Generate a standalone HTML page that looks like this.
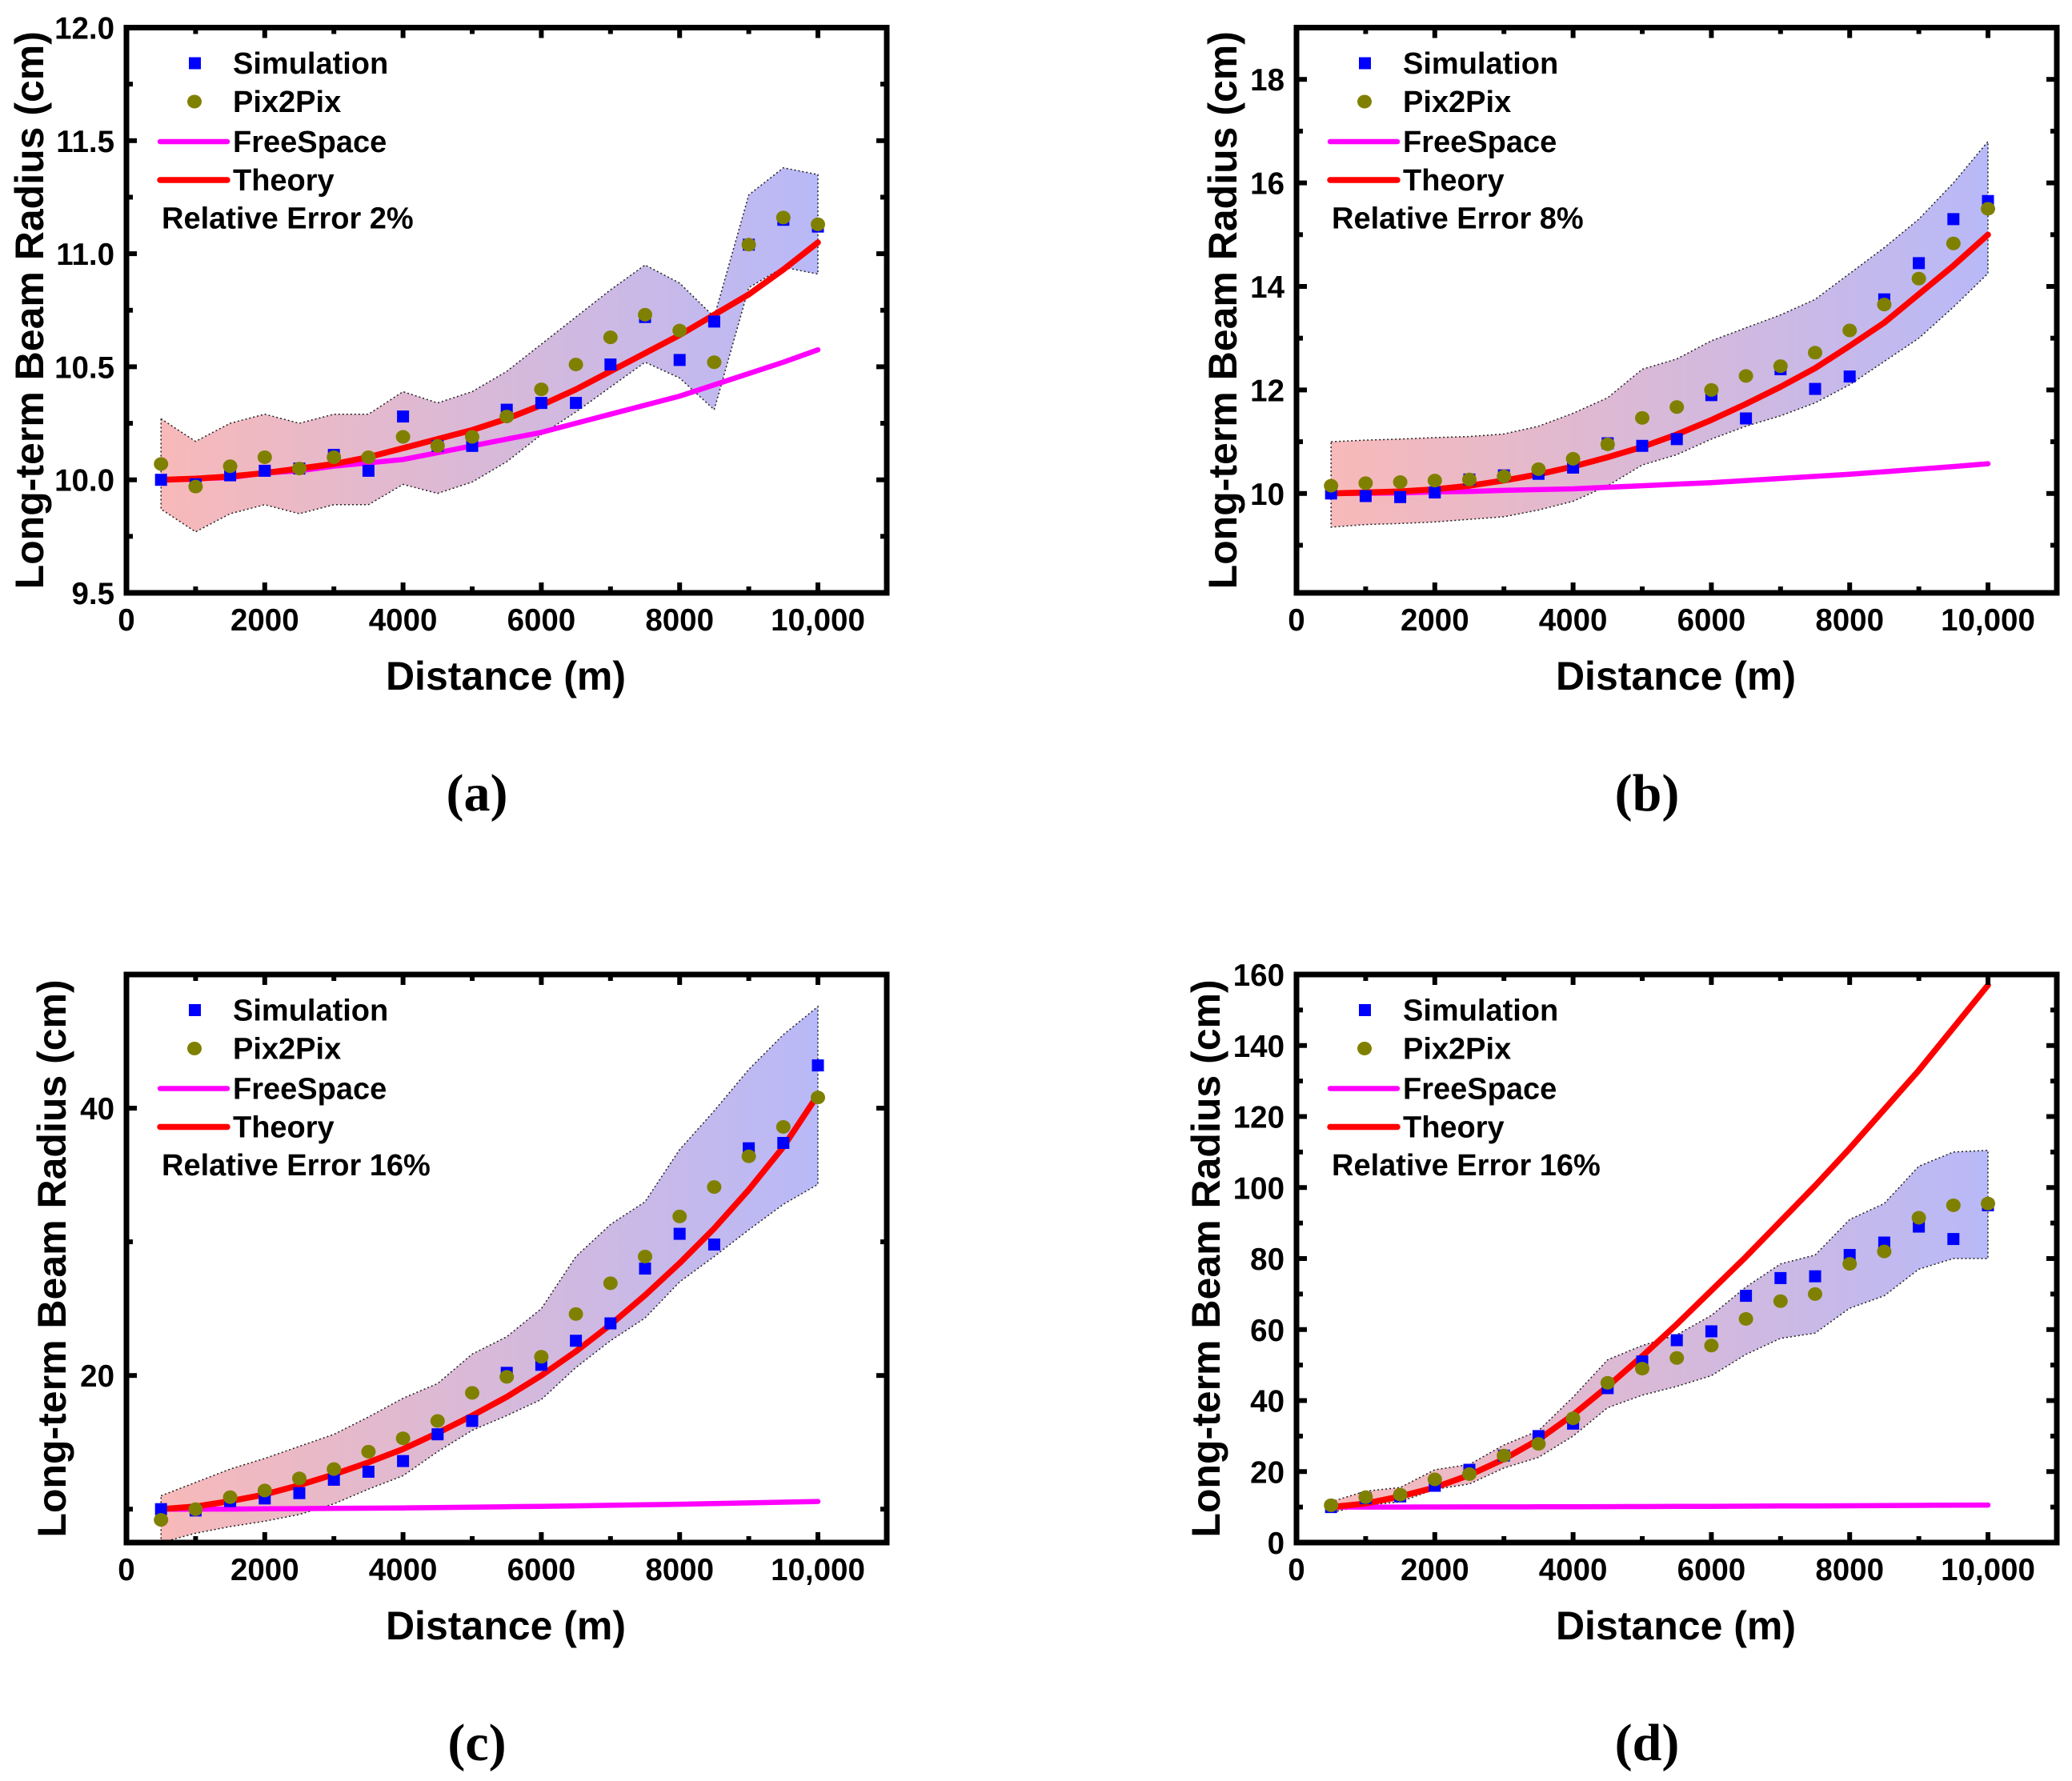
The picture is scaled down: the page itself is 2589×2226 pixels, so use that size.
<!DOCTYPE html>
<html><head><meta charset="utf-8"><style>
html,body{margin:0;padding:0;background:#fff;}
svg{display:block;font-family:"Liberation Sans",Arial,sans-serif;}
</style></head><body>
<svg id="fig" width="2589" height="2226" viewBox="0 0 2589 2226" xmlns="http://www.w3.org/2000/svg"></svg>
<script>
const distances=[500,1000,1500,2000,2500,3000,3500,4000,4500,5000,5500,6000,6500,7000,7500,8000,8500,9000,9500,10000];
// panel a
const simA=[10.0,9.98,10.02,10.04,10.05,10.11,10.04,10.28,10.15,10.15,10.31,10.34,10.34,10.51,10.72,10.53,10.70,11.04,11.15,11.12];
const pixA=[10.07,9.97,10.06,10.10,10.05,10.10,10.10,10.19,10.15,10.19,10.28,10.40,10.51,10.63,10.73,10.66,10.52,11.04,11.16,11.13];
const upA=[10.27,10.17,10.25,10.29,10.25,10.29,10.29,10.39,10.34,10.39,10.48,10.60,10.72,10.84,10.95,10.87,10.72,11.26,11.38,11.35];
const loA=[9.87,9.77,9.85,9.89,9.85,9.89,9.89,9.98,9.94,9.99,10.08,10.20,10.30,10.41,10.52,10.45,10.31,10.85,10.94,10.91];
const thA=[10.0,10.005,10.015,10.03,10.05,10.07,10.10,10.14,10.18,10.22,10.27,10.33,10.40,10.48,10.56,10.64,10.73,10.82,10.93,11.05];
const fsA=[10.0,10.005,10.01,10.03,10.04,10.06,10.075,10.09,10.12,10.15,10.18,10.21,10.25,10.29,10.33,10.37,10.42,10.47,10.52,10.575];
// panel b
const simB=[10.0,9.95,9.93,10.02,10.27,10.35,10.38,10.5,10.97,10.92,11.05,11.9,11.45,12.4,12.02,12.26,13.75,14.45,15.3,15.65];
const pixB=[10.15,10.2,10.22,10.25,10.27,10.33,10.47,10.67,10.95,11.46,11.67,12.0,12.27,12.46,12.72,13.15,13.65,14.15,14.83,15.5];
const upB=[11.0,11.03,11.05,11.08,11.1,11.15,11.3,11.55,11.85,12.4,12.6,12.95,13.2,13.45,13.75,14.25,14.75,15.3,16.0,16.8];
const loB=[9.35,9.4,9.42,9.45,9.5,9.55,9.68,9.85,10.15,10.55,10.75,11.05,11.3,11.5,11.75,12.1,12.55,13.0,13.6,14.25];
const thB=[10.0,10.02,10.04,10.08,10.15,10.25,10.37,10.52,10.7,10.9,11.14,11.42,11.73,12.06,12.42,12.85,13.3,13.85,14.4,15.0];
const fsB=fsA;
// panel c
const simC=[10.0,9.9,10.6,10.8,11.2,12.2,12.8,13.6,15.6,16.6,20.2,20.8,22.6,23.9,28.0,30.6,29.8,37.0,37.4,43.2];
const pixC=[9.2,10.0,10.9,11.4,12.3,13.0,14.3,15.3,16.6,18.7,19.9,21.4,24.6,26.9,28.9,31.9,34.1,36.4,38.6,40.8];
const upC=[11.0,12.0,13.0,13.8,14.7,15.6,16.9,18.3,19.4,21.6,22.9,25.0,28.9,31.3,33.0,36.9,39.8,42.9,45.5,47.6];
const loC=[7.5,8.2,8.7,9.1,9.6,10.4,11.5,12.5,14.3,15.9,17.0,18.2,20.6,22.6,24.3,27.0,28.9,30.9,32.8,34.3];
const thC=[10.0,10.2,10.6,11.1,11.8,12.6,13.5,14.5,15.7,17.0,18.4,20.0,21.8,23.8,26.0,28.4,31.0,33.9,37.1,41.0];
const fsC=fsA;
// panel d
const simD=[10,12.5,13,16,20.5,24.5,30,33.5,43.5,51,57,59.5,69.5,74.5,75,81,84.5,89,85.5,95];
const pixD=[10.5,12.8,13.5,17.8,19.3,24.5,27.8,35,45,49,52,55.5,63,68,70,78.5,82,91.5,95,95.5];
const upD=[11.5,14.5,15.5,20.5,22,27.5,31.5,41,51.5,55.5,58.5,64,72,78.5,81,91,95.5,106,110,110.5];
const loD=[8.5,10.5,11.5,15,16.5,21,24,30,38,41.5,44,47,53,57.5,59,66,69.5,77,80,80];
const thD=[10,11,13,15.5,19,23.5,29,36,44,52.5,61.5,71,80.5,90.5,100.5,111,122,133,145,157];
const fsD=fsA;
const xTicks=[0,2000,4000,6000,8000,10000];
const xTickLabels=["0","2000","4000","6000","8000","10,000"];
const yTicksA=[9.5,10.0,10.5,11.0,11.5,12.0];
const yTickLabelsA=["9.5","10.0","10.5","11.0","11.5","12.0"];
const yTicksB=[10,12,14,16,18];
const yTickLabelsB=["10","12","14","16","18"];
const yTicksC=[20,40];
const yTickLabelsC=["20","40"];
const yTicksD=[0,20,40,60,80,100,120,140,160];
const yTickLabelsD=["0","20","40","60","80","100","120","140","160"];
const errLabels=["Relative Error 2%","Relative Error 8%","Relative Error 16%","Relative Error 16%"];

const NS="http://www.w3.org/2000/svg";
const svg=document.getElementById('fig');
function mk(tag,attrs,parent){const e=document.createElementNS(NS,tag);for(const k in attrs)e.setAttribute(k,attrs[k]);(parent||svg).appendChild(e);return e;}

function panel(id,x0,top,bottom,ymin,ymax,yMinorStep,yTicks,yLabels,sim,pix,up,lo,th,fs,err,cap,titleX){
  const g=mk('g',{});
  
  
  const right=x0+950;
  const X=v=>x0+v*0.0864;
  const Y=v=>bottom-(v-ymin)/(ymax-ymin)*(bottom-top);
  const gid='grad'+id;
  const defs=mk('defs',{},g);
  const lg=mk('linearGradient',{id:gid,gradientUnits:'userSpaceOnUse',x1:X(500),y1:0,x2:X(10000),y2:0},defs);
  mk('stop',{offset:'0','stop-color':'#f8b9b9'},lg);
  mk('stop',{offset:'1','stop-color':'#b8b9f8'},lg);
  let d='';
  distances.forEach((x,i)=>{d+=(i?'L':'M')+X(x).toFixed(1)+' '+Y(up[i]).toFixed(1);});
  for(let i=distances.length-1;i>=0;i--)d+='L'+X(distances[i]).toFixed(1)+' '+Y(lo[i]).toFixed(1);
  const band=mk('path',{d:d+'Z',fill:'url(#'+gid+')',stroke:'#222','stroke-width':1.5,'stroke-dasharray':'2 3'},g);
  
  
  const line=(arr,col,w,name)=>{let p='';distances.forEach((x,i)=>{p+=(i?'L':'M')+X(x).toFixed(1)+' '+Y(arr[i]).toFixed(1);});
    const e=mk('path',{d:p,fill:'none',stroke:col,'stroke-width':w,'stroke-linejoin':'round','stroke-linecap':'round'},g);
    
    };
  line(fs,'#ff00ff',6.5,'freespace-line');
  line(th,'#ff0000',7.5,'theory-line');
  sim.forEach((v,i)=>{const r=mk('rect',{x:X(distances[i])-7.5,y:Y(v)-7.5,width:15,height:15,fill:'#0000ff'},g);
    
    });
  pix.forEach((v,i)=>{const c=mk('ellipse',{cx:X(distances[i]),cy:Y(v),rx:9,ry:8.5,fill:'#808000'},g);
    
    });
  const fr=mk('rect',{x:x0,y:top,width:950,height:bottom-top,fill:'none',stroke:'#000','stroke-width':7},g);
  
  
  for(let v=0;v<=11000;v+=1000){const maj=v%2000===0;const L=maj?13:8;const xx=X(v);
    mk('line',{x1:xx,y1:bottom,x2:xx,y2:bottom-L,stroke:'#000','stroke-width':6},g);
    mk('line',{x1:xx,y1:top,x2:xx,y2:top+L,stroke:'#000','stroke-width':6},g);}
  xTicks.forEach((v,i)=>{const t=mk('text',{x:X(v),y:bottom+47,'text-anchor':'middle','font-size':38.5,'font-weight':'bold'},g);t.textContent=xTickLabels[i];
    
    });
  for(let v=ymax;v>=ymin-1e-9;v-=yMinorStep){const yy=Y(v);const maj=yTicks.some(t=>Math.abs(t-v)<1e-6);const L=maj?13:8;
    mk('line',{x1:x0,y1:yy,x2:x0+L,y2:yy,stroke:'#000','stroke-width':6},g);
    mk('line',{x1:right,y1:yy,x2:right-L,y2:yy,stroke:'#000','stroke-width':6},g);}
  yTicks.forEach((v,i)=>{const t=mk('text',{x:x0-15,y:Y(v)+14,'text-anchor':'end','font-size':38.5,'font-weight':'bold'},g);t.textContent=yLabels[i];
    
    });
  const xt=mk('text',{x:x0+474,y:bottom+121,'text-anchor':'middle','font-size':50,'font-weight':'bold'},g);xt.textContent='Distance (m)';
  
  
  const cy=(top+bottom)/2;
  const yt=mk('text',{x:titleX,y:cy,'text-anchor':'middle','font-size':50,'font-weight':'bold',transform:'rotate(-90 '+titleX+' '+cy+')'},g);yt.textContent='Long-term Beam Radius (cm)';
  
  
  const lx=x0, ly=top;
  const rows=[44.5,92.5,142.5,190.5];
  const ls=mk('rect',{x:lx+78,y:ly+rows[0]-7.5,width:15,height:15,fill:'#0000ff'},g);
  
  
  const lp=mk('ellipse',{cx:lx+85,cy:ly+rows[1],rx:9,ry:8.5,fill:'#808000'},g);
  
  
  mk('line',{x1:lx+42,y1:ly+rows[2],x2:lx+126,y2:ly+rows[2],stroke:'#ff00ff','stroke-width':6.5,'stroke-linecap':'round'},g);
  mk('line',{x1:lx+42,y1:ly+rows[3],x2:lx+126,y2:ly+rows[3],stroke:'#ff0000','stroke-width':7.5,'stroke-linecap':'round'},g);
  ['Simulation','Pix2Pix','FreeSpace','Theory'].forEach((s,i)=>{const t=mk('text',{x:lx+133,y:ly+rows[i]+13,'font-size':38,'font-weight':'bold'},g);t.textContent=s;
    
    });
  const et=mk('text',{x:lx+44,y:ly+251,'font-size':38,'font-weight':'bold'},g);et.textContent=err;
  
  
  const ct=mk('text',{x:x0+438,y:bottom+272,'text-anchor':'middle','font-size':66,'font-weight':'bold','font-family':'"Liberation Serif",serif'},g);ct.textContent=cap;
  
  
}
panel('a',158,34.5,741,9.5,12.0,0.25,yTicksA,yTickLabelsA,simA,pixA,upA,loA,thA,fsA,errLabels[0],'(a)',54);
panel('b',1620,34.5,741,8.08,19.0,1,yTicksB,yTickLabelsB,simB,pixB,upB,loB,thB,fsB,errLabels[1],'(b)',1545);
panel('c',158,1218,1928,7.5,50,10,yTicksC,yTickLabelsC,simC,pixC,upC,loC,thC,fsC,errLabels[2],'(c)',82);
panel('d',1620,1218,1928,0,160,10,yTicksD,yTickLabelsD,simD,pixD,upD,loD,thD,fsD,errLabels[3],'(d)',1524);
</script>
</body></html>
